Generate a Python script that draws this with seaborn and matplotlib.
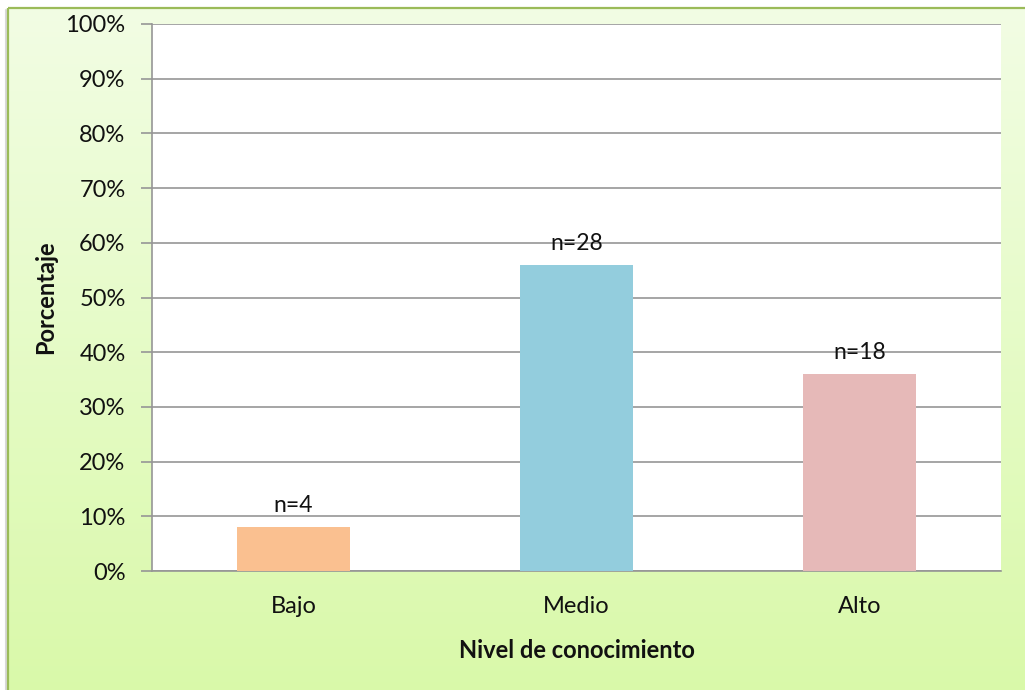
import numpy as np
import pandas as pd
import matplotlib
matplotlib.use("Agg")
import matplotlib.pyplot as plt
from matplotlib.patches import Rectangle
from matplotlib.ticker import FuncFormatter, MultipleLocator
import seaborn as sns

categorias = ["Bajo", "Medio", "Alto"]
porcentajes = [8, 56, 36]
conteos = [4, 28, 18]
colores = ["#FAC090", "#93CDDD", "#E6B9B8"]

sns.set_theme(style="white")
plt.rcParams["font.family"] = ["Lato", "DejaVu Sans"]

W, H = 1025, 690
fig = plt.figure(figsize=(W / 100, H / 100), dpi=100)

# Background panel with vertical green gradient and green frame
bg = fig.add_axes([0, 0, 1, 1], zorder=-10)
bg.set_xlim(0, W)
bg.set_ylim(H, 0)
bg.axis("off")
grad = np.linspace(0, 1, 256).reshape(-1, 1)
top = np.array([0xF2, 0xFD, 0xE4]) / 255
bot = np.array([0xD9, 0xF9, 0xA9]) / 255
img = top + (bot - top) * grad[..., None]
bg.imshow(img, extent=[8, W + 5, H + 5, 8], aspect="auto", zorder=0)
bg.add_patch(Rectangle((7.5, 8), W, H, fill=False, edgecolor="#9BBB59",
                       linewidth=1.6, zorder=2))
bg.plot([6, 6], [10, H], color="#D8D8D8", lw=1.5, zorder=1)

# Plot area
l, r, t, b = 152, 1001, 24, 571
ax = fig.add_axes([l / W, 1 - b / H, (r - l) / W, (b - t) / H])
ax.set_facecolor("white")

df = pd.DataFrame({"nivel": categorias, "pct": porcentajes})
sns.barplot(data=df, x="nivel", y="pct", hue="nivel", palette=colores,
            order=categorias, width=0.4, legend=False, ax=ax,
            saturation=1, linewidth=0, zorder=3)

for i, (p, n) in enumerate(zip(porcentajes, conteos)):
    ax.text(i, p + 2.0, f"n={n}", ha="center", va="bottom",
            fontsize=16.5, color="#111111")

ax.set_ylim(0, 100)
ax.set_xlim(-0.5, 2.5)
ax.yaxis.set_major_locator(MultipleLocator(10))
ax.yaxis.set_major_formatter(FuncFormatter(lambda v, _: f"{v:.0f}%"))
ax.grid(axis="y", color="#969696", linewidth=1.2, zorder=0)
ax.set_axisbelow(True)

for s in ["top", "right"]:
    ax.spines[s].set_visible(False)
for s in ["left", "bottom"]:
    ax.spines[s].set_color("#969696")
    ax.spines[s].set_linewidth(1.2)

ax.tick_params(axis="y", which="major", direction="out", length=8,
               width=1.2, color="#969696", labelsize=17, pad=11,
               left=True, labelcolor="#111111")
ax.tick_params(axis="x", length=0, labelsize=17, pad=18,
               labelcolor="#111111")

ax.set_xlabel("Nivel de conocimiento", fontsize=17, fontweight="bold",
              labelpad=16, color="#111111")
ax.set_ylabel("Porcentaje", fontsize=17, fontweight="bold",
              labelpad=6, color="#111111")

fig.savefig("out.png", dpi=100)
